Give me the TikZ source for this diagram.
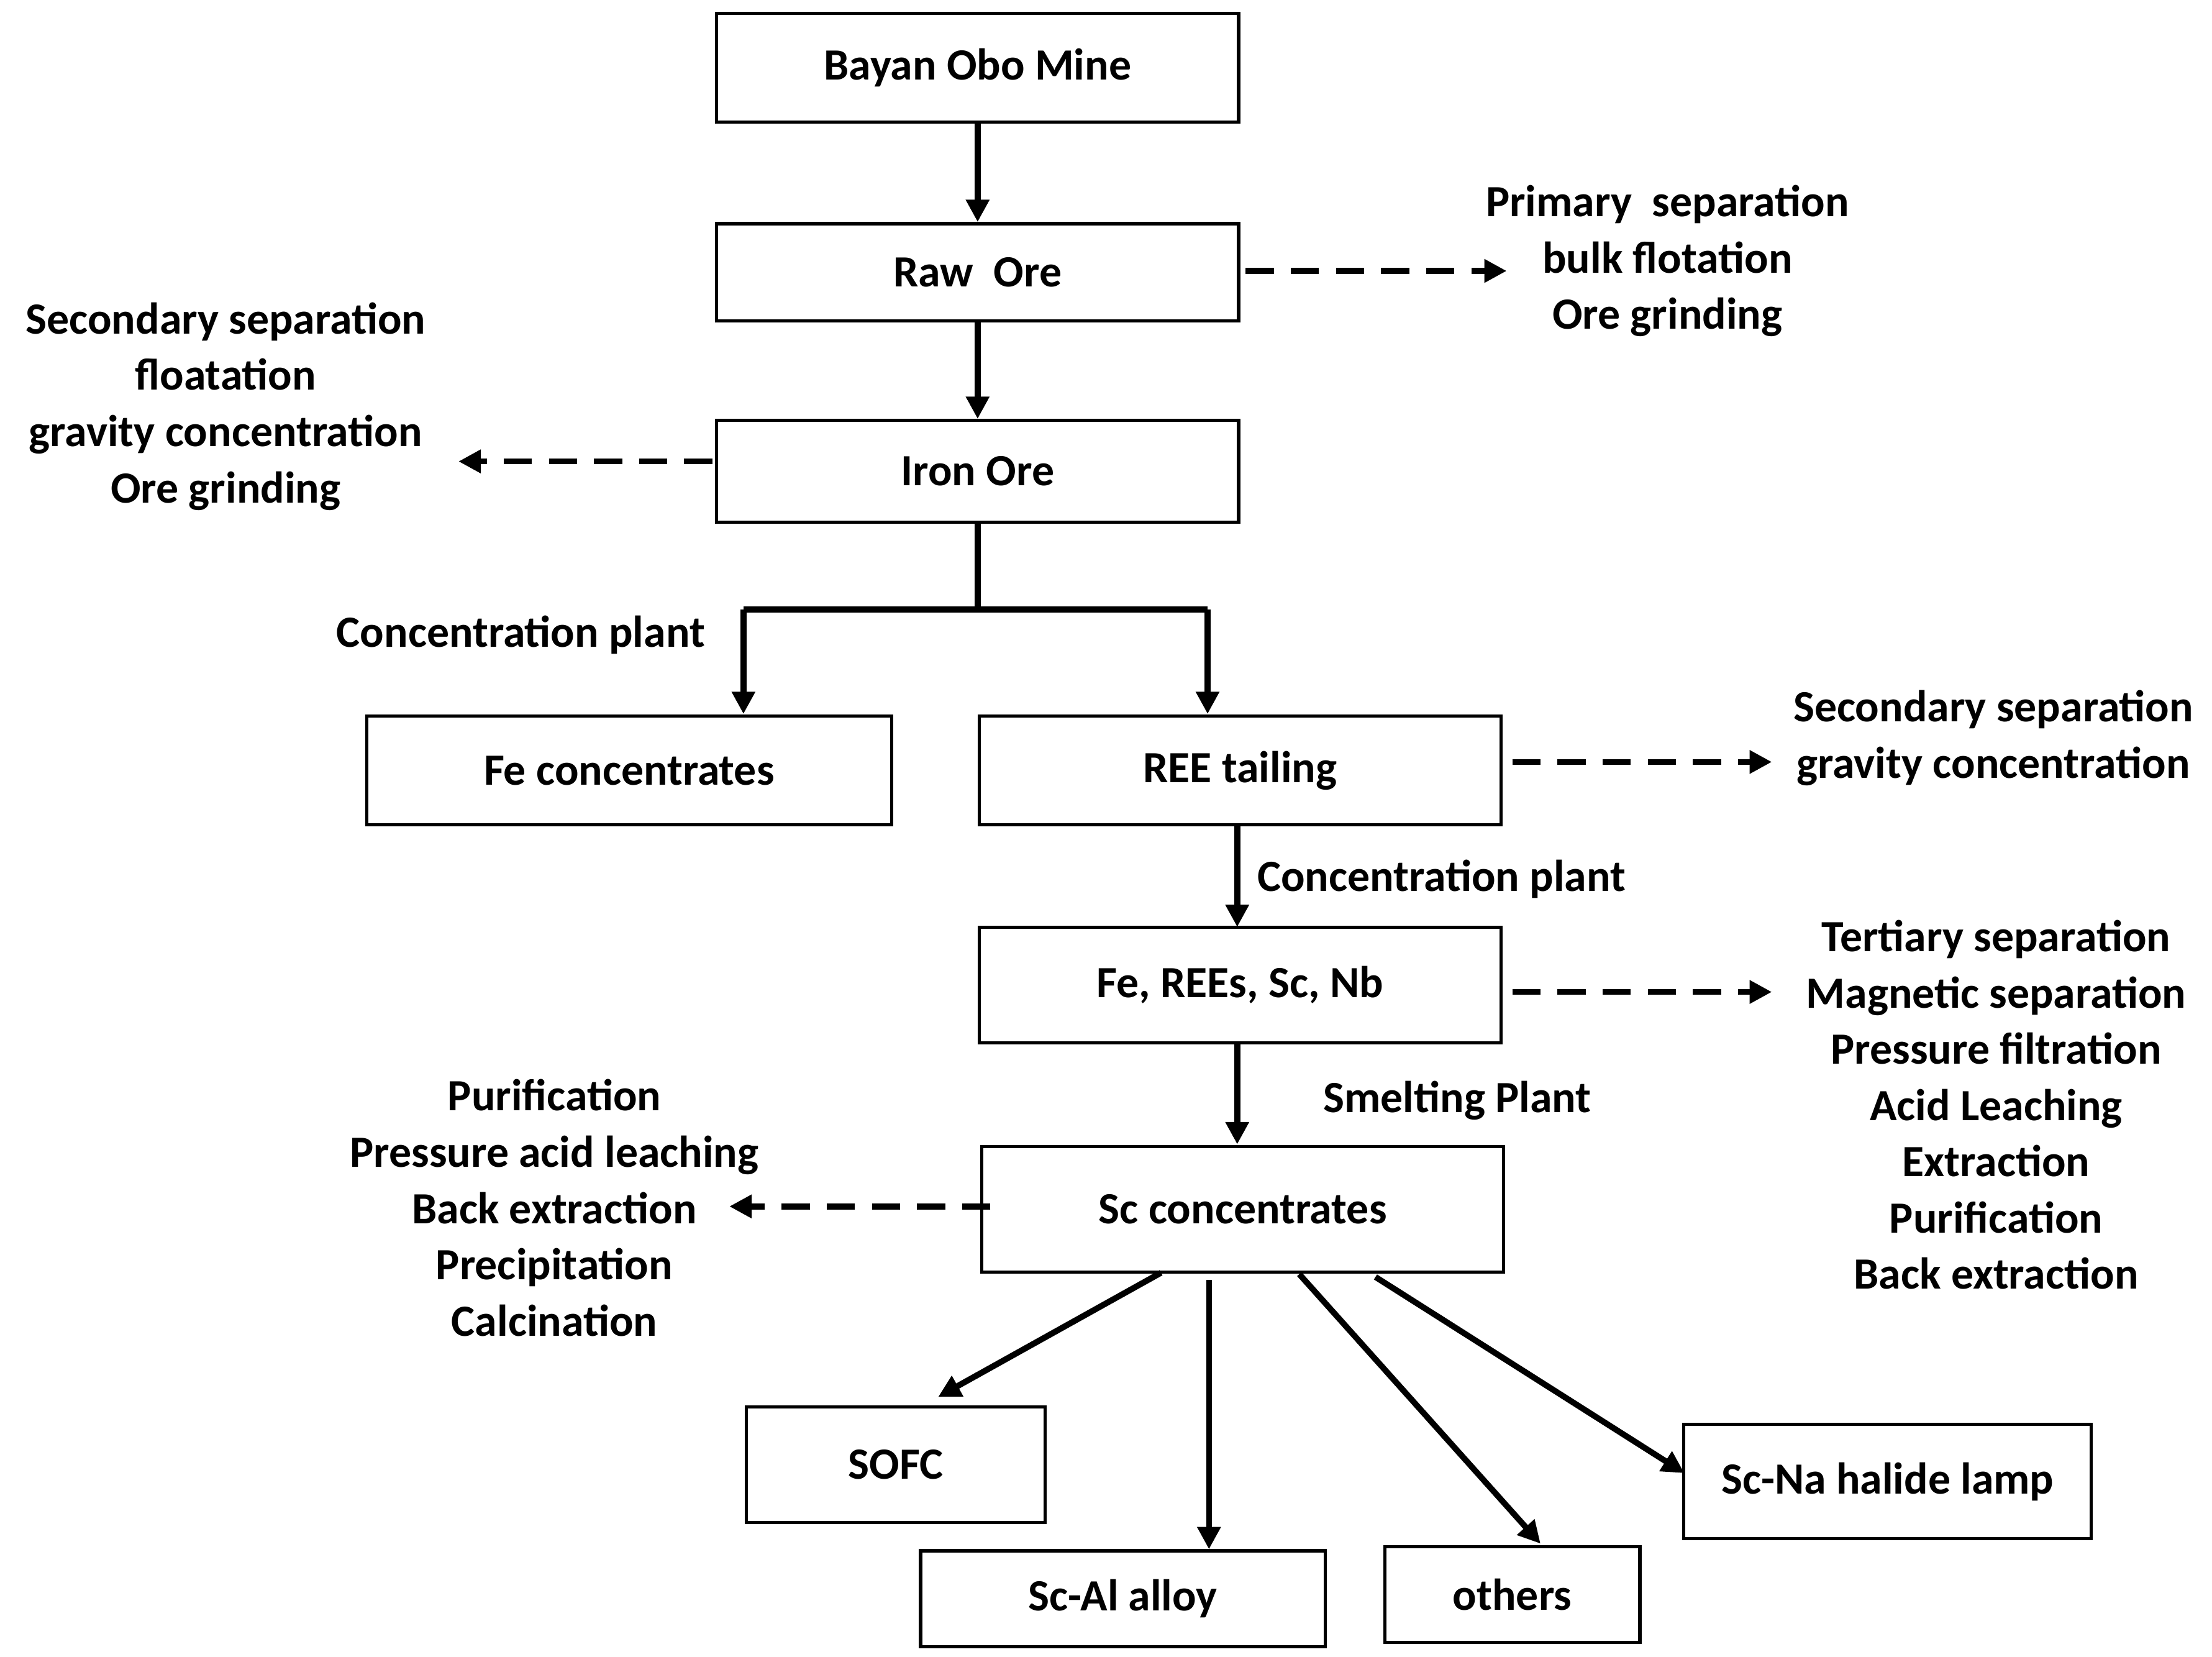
\documentclass[tikz,border=0pt]{standalone}
\usepackage{fontspec}
\setmainfont{Carlito}
\usetikzlibrary{arrows.meta}
\begin{document}
\begin{tikzpicture}[x=0.02cm,y=-0.02cm,
  font=\fontsize{18}{22.7}\selectfont\bfseries,
  box/.style={draw,line width=1.3pt,inner sep=0pt},
  ar/.style={line width=2.4pt,-{Triangle[length=9pt,width=9pt]}},
  da/.style={ar,dash pattern=on 0.4cm off 0.24cm},
  lab/.style={align=center,inner sep=0pt}]
\useasboundingbox (0,0) rectangle (1568,1174);
\fill[white] (0,0) rectangle (1568,1174);
\node[box,minimum width=7.4cm,minimum height=1.54cm] (bayan) at (693,48) {Bayan Obo Mine};
\node[box,minimum width=7.4cm,minimum height=1.38cm] (raw) at (693,193) {Raw\ \ Ore};
\node[box,minimum width=7.4cm,minimum height=1.44cm] (iron) at (693,334) {Iron Ore};
\node[box,minimum width=7.44cm,minimum height=1.54cm] (fe) at (446,546) {Fe concentrates};
\node[box,minimum width=7.4cm,minimum height=1.54cm] (ree) at (879,546) {REE tailing};
\node[box,minimum width=7.4cm,minimum height=1.64cm] (fer) at (879,698) {Fe, REEs, Sc, Nb};
\node[box,minimum width=7.4cm,minimum height=1.78cm] (sc) at (881,857) {Sc concentrates};
\node[box,minimum width=4.24cm,minimum height=1.64cm] (sofc) at (635,1038) {SOFC};
\node[box,minimum width=5.74cm,minimum height=1.36cm] (scal) at (796,1133) {Sc-Al alloy};
\node[box,minimum width=3.62cm,minimum height=1.36cm] (oth) at (1072,1130) {others};
\node[box,minimum width=5.78cm,minimum height=1.62cm] (scna) at (1338,1050) {Sc-Na halide lamp};

\node[lab] (t1) at (1182,185) {Primary\ \ separation\\bulk flotation\\Ore grinding};
\node[lab] (t2) at (160,288) {Secondary separation\\floatation\\gravity concentration\\Ore grinding};
\node[lab,anchor=east] (t3) at (500,450) {Concentration plant};
\node[lab] (t4) at (1413,523) {Secondary separation\\gravity concentration};
\node[lab,anchor=west] (t5) at (891,623) {Concentration plant};
\node[lab] (t6) at (1415,783) {Tertiary separation\\Magnetic separation\\Pressure filtration\\Acid Leaching\\Extraction\\Purification\\Back extraction};
\node[lab] (t7) at (1033,780) {Smelting Plant};
\node[lab] (t8) at (393,856) {Purification\\Pressure acid leaching\\Back extraction\\Precipitation\\Calcination};

\coordinate (j) at (693,432);
\coordinate (jl) at (527,432);
\coordinate (jr) at (856,432);
\draw[ar] (bayan) -- (raw);
\draw[ar] (raw) -- (iron);
\draw[line width=2.4pt] (iron.south) -- (j);
\draw[line width=2.4pt] (jl) -- (jr);
\draw[ar] (jl) -- (527,506);
\draw[ar] (jr) -- (856,506);
\draw[ar] (877,584) -- (877,657);
\draw[ar] (877,739) -- (877,811);
\draw[ar] (823,902) -- (665,990);
\draw[ar] (857,907) -- (857,1098);
\draw[ar] (921,903) -- (1092,1094);
\draw[ar] (975,905) -- (1194,1044);
\draw[da] (883,192) -- (1068,192);
\draw[da] (505,327) -- (325,327);
\draw[da] (1072,540) -- (1256,540);
\draw[da] (1072,703) -- (1256,703);
\draw[da] (702,855) -- (517,855);
\end{tikzpicture}
\end{document}
